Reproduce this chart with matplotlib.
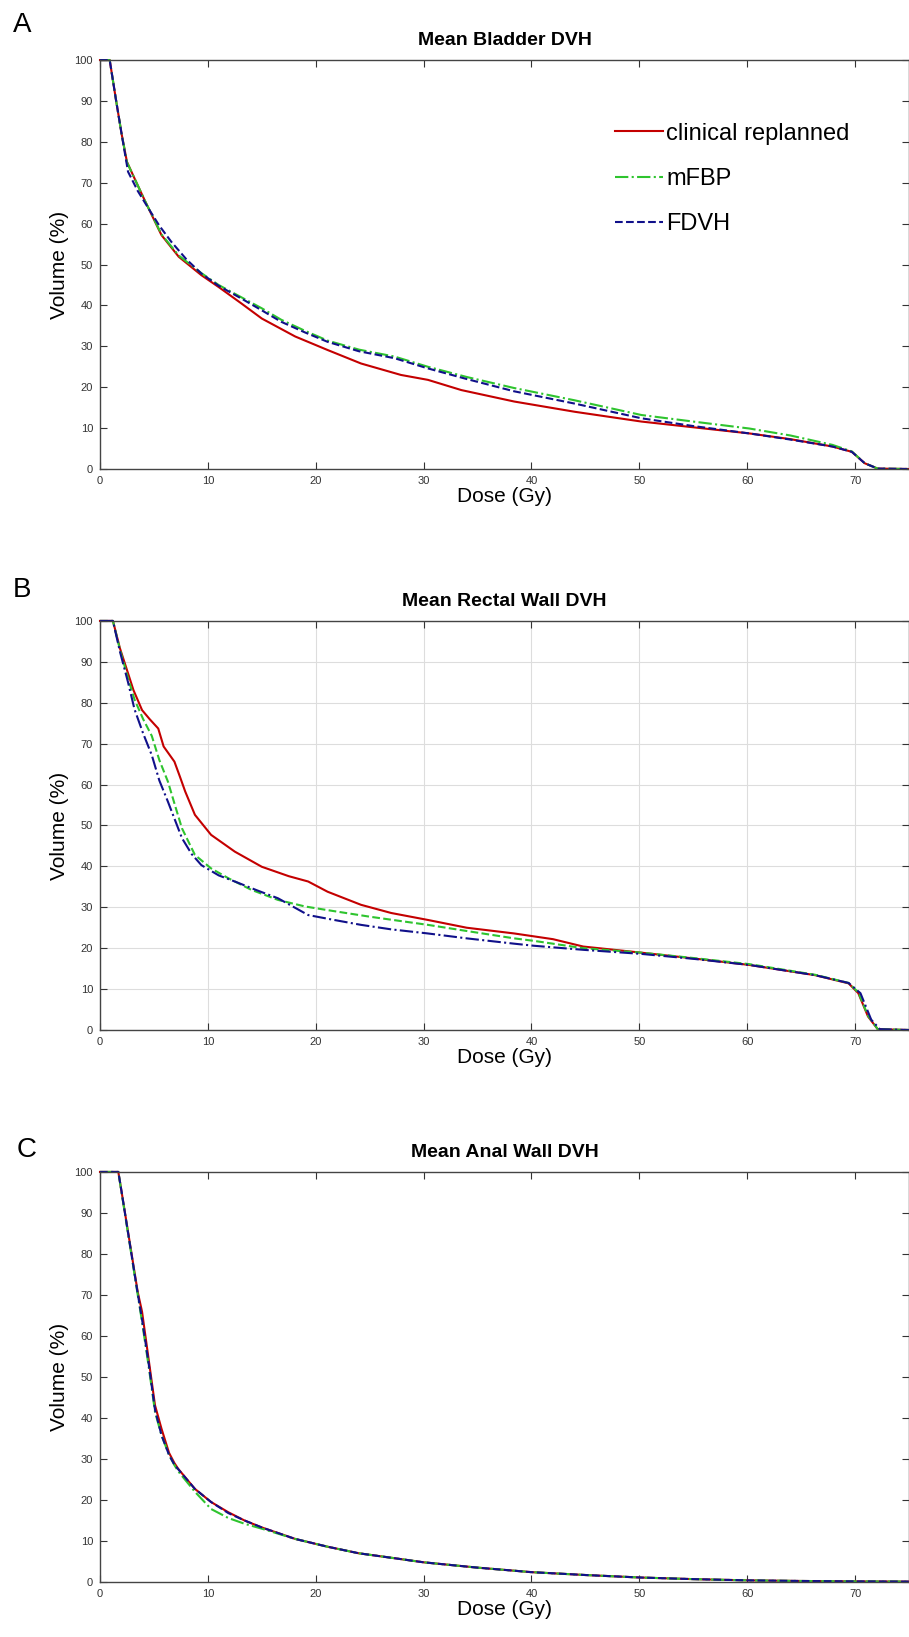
import matplotlib
matplotlib.use("Agg")
import matplotlib.pyplot as plt

plt.rcParams['font.family'] = ['Liberation Sans', 'DejaVu Sans']

# --- Panel A: bladder ---
dose_a_clin = [0, 0.9, 1.5, 2.0, 2.5, 3.3, 4.2, 5.7, 7.3, 9.4, 11.0, 13.1, 15.0, 18.1, 21.1, 24.2,
               27.9, 30.4, 33.5, 38.4, 44, 50.2, 55, 60.2, 64, 67.9, 69.7, 70.9, 72.1, 75]
vol_a_clin = [100, 100, 90, 82, 75.1, 70.5, 65.4, 57.2, 51.9, 47.4, 44.5, 40.5, 36.8, 32.4, 29.1, 25.8,
              23.0, 21.8, 19.3, 16.5, 14.0, 11.6, 10.2, 8.7, 7.3, 5.5, 4.2, 1.4, 0.1, 0]
dose_a_mfbp = [0, 0.9, 1.5, 2.0, 2.5, 3.3, 4.2, 5.7, 7.3, 9.4, 11.0, 13.1, 15.0, 16.8, 19.0, 21.1,
               24.0, 27.3, 30.4, 34, 38.4, 44, 50.2, 55, 60.2, 64, 67.9, 69.7, 70.9, 72.1, 75]
vol_a_mfbp = [100, 100, 90, 82, 75.0, 70.5, 65.4, 57.4, 52.2, 47.9, 45.0, 42.0, 39.3, 36.5, 33.8, 31.4,
              29.2, 27.5, 25.0, 22.5, 19.8, 16.8, 13.2, 11.6, 9.9, 8.2, 5.9, 4.3, 1.4, 0.1, 0]
dose_a_fdvh = [0, 0.9, 1.5, 2.0, 2.6, 3.5, 4.5, 5.5, 6.6, 8.0, 9.4, 11.0, 13.1, 15.0, 16.8, 19.0,
               21.1, 24.0, 27.3, 30.4, 34, 38.4, 44, 50.2, 55, 60.2, 64, 67.9, 69.7, 70.9, 72.1, 75]
vol_a_fdvh = [100, 100, 90, 82, 72.7, 68.0, 63.7, 59.5, 55.6, 51.3, 47.8, 44.8, 41.7, 38.8, 36.0, 33.4,
              31.1, 28.8, 27.1, 24.6, 22.0, 19.0, 16.0, 12.4, 10.5, 8.7, 7.2, 5.5, 4.2, 1.4, 0.1, 0]

# --- Panel B: rectal wall ---
dose_b_clin = [0, 1.2, 1.85, 2.6, 3.1, 3.9, 4.6, 5.4, 5.9, 6.9, 7.4, 7.9, 8.8, 10.3, 12.5, 15.0, 17.5,
               19.3, 21.1, 24.2, 27.0, 30.4, 34, 38.4, 42.0, 44.8, 50.2, 55, 60.2, 66.3, 69.4, 70.3,
               71.2, 72.1, 75]
vol_b_clin = [100, 100, 93.3, 87.2, 83.1, 78.2, 76.0, 73.7, 69.3, 65.6, 62.0, 58.3, 52.6, 47.7, 43.6,
              39.9, 37.6, 36.3, 33.8, 30.6, 28.6, 26.9, 25.0, 23.6, 22.2, 20.4, 18.9, 17.5, 15.9, 13.4,
              11.4, 9.0, 3.3, 0.2, 0]
dose_b_mfbp = [0, 1.2, 1.85, 2.6, 3.2, 4.0, 4.8, 5.5, 6.3, 7.0, 7.6, 8.8, 10.3, 11.9, 14.0, 16.5, 19.0,
               21.1, 25.0, 30.4, 34, 38.4, 40.2, 44.8, 50.2, 55, 60.2, 66.3, 69.4, 70.3, 71.2, 72.1, 75]
vol_b_mfbp = [100, 100, 93.0, 86.0, 80.8, 76.0, 71.9, 66.0, 60.7, 54.5, 49.3, 42.8, 39.5, 37.1, 34.3,
              31.8, 30.2, 29.3, 27.7, 25.7, 24.2, 22.4, 21.8, 20.0, 18.9, 17.6, 16.1, 13.5, 11.5, 9.2,
              3.5, 0.2, 0]
dose_b_fdvh = [0, 1.2, 1.85, 2.6, 3.2, 4.0, 4.8, 5.5, 6.3, 7.0, 7.6, 8.5, 9.4, 11.0, 12.5, 14.5, 16.5,
               19.3, 21.5, 24.2, 27.0, 30.4, 34, 38.4, 40.2, 44.8, 50.2, 55, 60.2, 66.3, 69.4, 70.5,
               71.5, 72.3, 75]
vol_b_fdvh = [100, 100, 92.5, 85.0, 78.4, 72.5, 67.2, 61.0, 55.8, 51.0, 46.9, 43.0, 40.3, 37.8, 36.3,
              34.2, 32.2, 28.1, 27.0, 25.7, 24.6, 23.6, 22.4, 21.1, 20.6, 19.6, 18.6, 17.4, 15.9, 13.4,
              11.5, 9.0, 2.5, 0.2, 0]

# --- Panel C: anal wall ---
dose_c = [0, 1.7, 2.0, 2.6, 3.5, 3.9, 4.5, 5.1, 5.7, 6.4, 6.9, 7.25, 8.8, 10.3, 11.9, 13.4, 15.0, 18.1,
          21.1, 24.0, 27.3, 30, 35, 40, 45, 50, 55, 60, 65, 70, 75]
vol_c_clin = [100, 100, 95.2, 85.4, 70.7, 65.9, 54.5, 43.1, 37.4, 31.5, 29.0, 27.6, 22.7, 19.5, 17.0,
              15.0, 13.3, 10.5, 8.6, 7.0, 5.8, 4.8, 3.5, 2.4, 1.7, 1.1, 0.7, 0.4, 0.25, 0.15, 0.1]
vol_c_mfbp = [100, 100, 95.0, 85.0, 70.0, 63.4, 52.8, 41.5, 35.8, 31.0, 28.5, 27.0, 22.0, 17.8, 15.6,
              14.2, 13.0, 10.5, 8.6, 7.0, 5.8, 4.8, 3.5, 2.4, 1.7, 1.1, 0.7, 0.4, 0.25, 0.15, 0.1]
vol_c_fdvh = [100, 100, 95.2, 85.2, 70.3, 64.0, 53.5, 42.0, 35.8, 31.0, 28.6, 27.5, 22.7, 19.5, 16.8,
              15.0, 13.3, 10.5, 8.6, 7.0, 5.8, 4.8, 3.5, 2.4, 1.7, 1.1, 0.7, 0.4, 0.25, 0.15, 0.1]

red = '#c40000'
green = '#2ec42e'
navy = '#10108a'

fig = plt.figure(figsize=(9.09, 16.37), dpi=100)

boxes = [(0.110, 0.7135, 0.890, 0.2498),
         (0.110, 0.3708, 0.890, 0.2499),
         (0.110, 0.0336, 0.890, 0.2505)]
titles = ['Mean Bladder DVH', 'Mean Rectal Wall DVH', 'Mean Anal Wall DVH']
axes = []
for box, title in zip(boxes, titles):
    ax = fig.add_axes(box)
    ax.set_xlim(0, 75)
    ax.set_ylim(0, 100)
    ax.set_xticks(range(0, 80, 10))
    ax.set_yticks(range(0, 110, 10))
    ax.tick_params(direction='in', length=5, width=0.8, top=True, right=True,
                   labelsize=8, colors='#333333', pad=5)
    for s in ax.spines.values():
        s.set_color('#444444')
        s.set_linewidth(1.0)
    ax.set_title(title, fontsize=14, fontweight='bold', pad=11)
    ax.set_xlabel('Dose (Gy)', fontsize=15, labelpad=1)
    ax.set_ylabel('Volume (%)', fontsize=15, labelpad=4)
    axes.append(ax)

ax_a, ax_b, ax_c = axes

kw = dict(lw=1.5, clip_on=False)
ax_a.plot(dose_a_clin, vol_a_clin, color=red, label='clinical replanned', **kw)
ax_a.plot(dose_a_mfbp, vol_a_mfbp, color=green, ls='-.', label='mFBP', **kw)
ax_a.plot(dose_a_fdvh, vol_a_fdvh, color=navy, ls='--', label='FDVH', **kw)
ax_a.legend(loc='upper left', bbox_to_anchor=(0.625, 0.87), frameon=False, fontsize=17,
            handlelength=2.05, handletextpad=0.12, labelspacing=0.98, borderaxespad=0)

ax_b.grid(True, color='#dddddd', lw=0.8)
ax_b.set_axisbelow(True)
ax_b.plot(dose_b_clin, vol_b_clin, color=red, **kw)
ax_b.plot(dose_b_mfbp, vol_b_mfbp, color=green, ls='--', **kw)
ax_b.plot(dose_b_fdvh, vol_b_fdvh, color=navy, ls='-.', **kw)

ax_c.plot(dose_c, vol_c_clin, color=red, **kw)
ax_c.plot(dose_c, vol_c_mfbp, color=green, ls='-.', **kw)
ax_c.plot(dose_c, vol_c_fdvh, color=navy, ls='--', **kw)

fig.text(22 / 909, 1 - 25 / 1637, 'A', fontsize=20, ha='center', va='center')
fig.text(22 / 909, 1 - 590 / 1637, 'B', fontsize=20, ha='center', va='center')
fig.text(27 / 909, 1 - 1150 / 1637, 'C', fontsize=20, ha='center', va='center')

fig.savefig('out.png', dpi=100)
